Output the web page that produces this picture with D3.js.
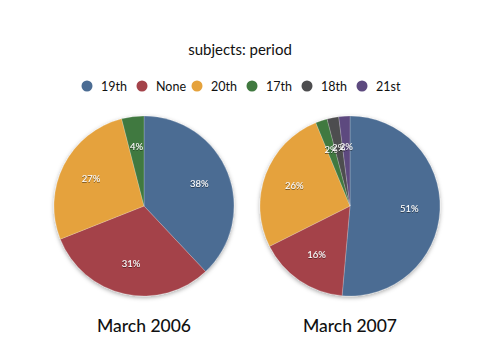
<!DOCTYPE html>
<html><head><meta charset="utf-8">
<script src="https://cdn.jsdelivr.net/npm/d3@7"></script>
<style>body{margin:0;background:#fff}svg{display:block}</style>
</head><body>
<svg id="c" width="480" height="360"></svg>
<script>
const categories = ["19th","None","20th","17th","18th","21st"];
const colors = ["#4b6c93","#a4434a","#e5a23c","#40793f","#4d4d4f","#5d4a7f"];
const values2006 = [38,31,27,4,0,0];
const values2007 = [51.4,16.2,26.2,2.1,2.1,2.0];
const pieTitles = ["March 2006","March 2007"];
const chartTitle = "subjects: period";

const svg = d3.select("#c");
const font = "Lato, 'Open Sans', sans-serif";

const defs = svg.append("defs");
const f = defs.append("filter").attr("id","sh").attr("x","-20%").attr("y","-20%").attr("width","140%").attr("height","140%");
f.append("feDropShadow").attr("dx",0).attr("dy",1.5).attr("stdDeviation",2).attr("flood-color","#000").attr("flood-opacity",0.35);
const tf = defs.append("filter").attr("id","tsh");
tf.append("feDropShadow").attr("dx",0).attr("dy",0.6).attr("stdDeviation",0.6).attr("flood-color","#000").attr("flood-opacity",0.8);

svg.append("text").attr("x",240).attr("y",55).attr("text-anchor","middle")
  .attr("font-family",font).attr("font-size",15).attr("fill","#111").text(chartTitle);

const legendX = d3.scalePoint().domain(categories).range([87,362]);
const lg = svg.append("g").selectAll("g").data(categories).join("g")
  .attr("transform",d=>`translate(${legendX(d)},86)`);
lg.append("circle").attr("r",5.5).attr("fill",(d,i)=>colors[i]);
lg.append("text").attr("x",14).attr("y",4.5).attr("font-family",font).attr("font-size",12.5)
  .attr("fill","#111").text(d=>d);

const color = d3.scaleOrdinal().domain(categories).range(colors);
const pie = d3.pie().sort(null).value(d=>d.v);
const R = 90;
const arc = d3.arc().innerRadius(0).outerRadius(R);
const labelArc = d3.arc().innerRadius(R*0.66).outerRadius(R*0.66);
const centers = d3.scalePoint().domain(pieTitles).range([144,350]);

[values2006, values2007].forEach((vals, k) => {
  const data = categories.map((c,i)=>({c, v: vals[i]}));
  const cx = centers(pieTitles[k]), cy = 206;
  const g = svg.append("g").attr("transform",`translate(${cx},${cy})`);
  const arcs = pie(data).filter(d=>d.data.v>0);
  g.append("g").attr("filter","url(#sh)").selectAll("path").data(arcs).join("path")
    .attr("d",arc).attr("fill",d=>color(d.data.c))
    .attr("stroke","rgba(255,255,255,0.25)").attr("stroke-width",0.8);
  const total = d3.sum(vals);
  g.selectAll("text").data(arcs).join("text")
    .attr("transform",d=>`translate(${labelArc.centroid(d)})`)
    .attr("text-anchor","middle").attr("dy","0.35em")
    .attr("font-family",font).attr("font-size",9.5).attr("fill","#fff")
    .attr("filter","url(#tsh)")
    .text(d=>Math.round(d.data.v/total*100)+"%");
  svg.append("text").attr("x",cx).attr("y",332).attr("text-anchor","middle")
    .attr("font-family",font).attr("font-size",17.5).attr("font-weight",500).attr("fill","#111")
    .text(pieTitles[k]);
});
</script>
</body></html>
